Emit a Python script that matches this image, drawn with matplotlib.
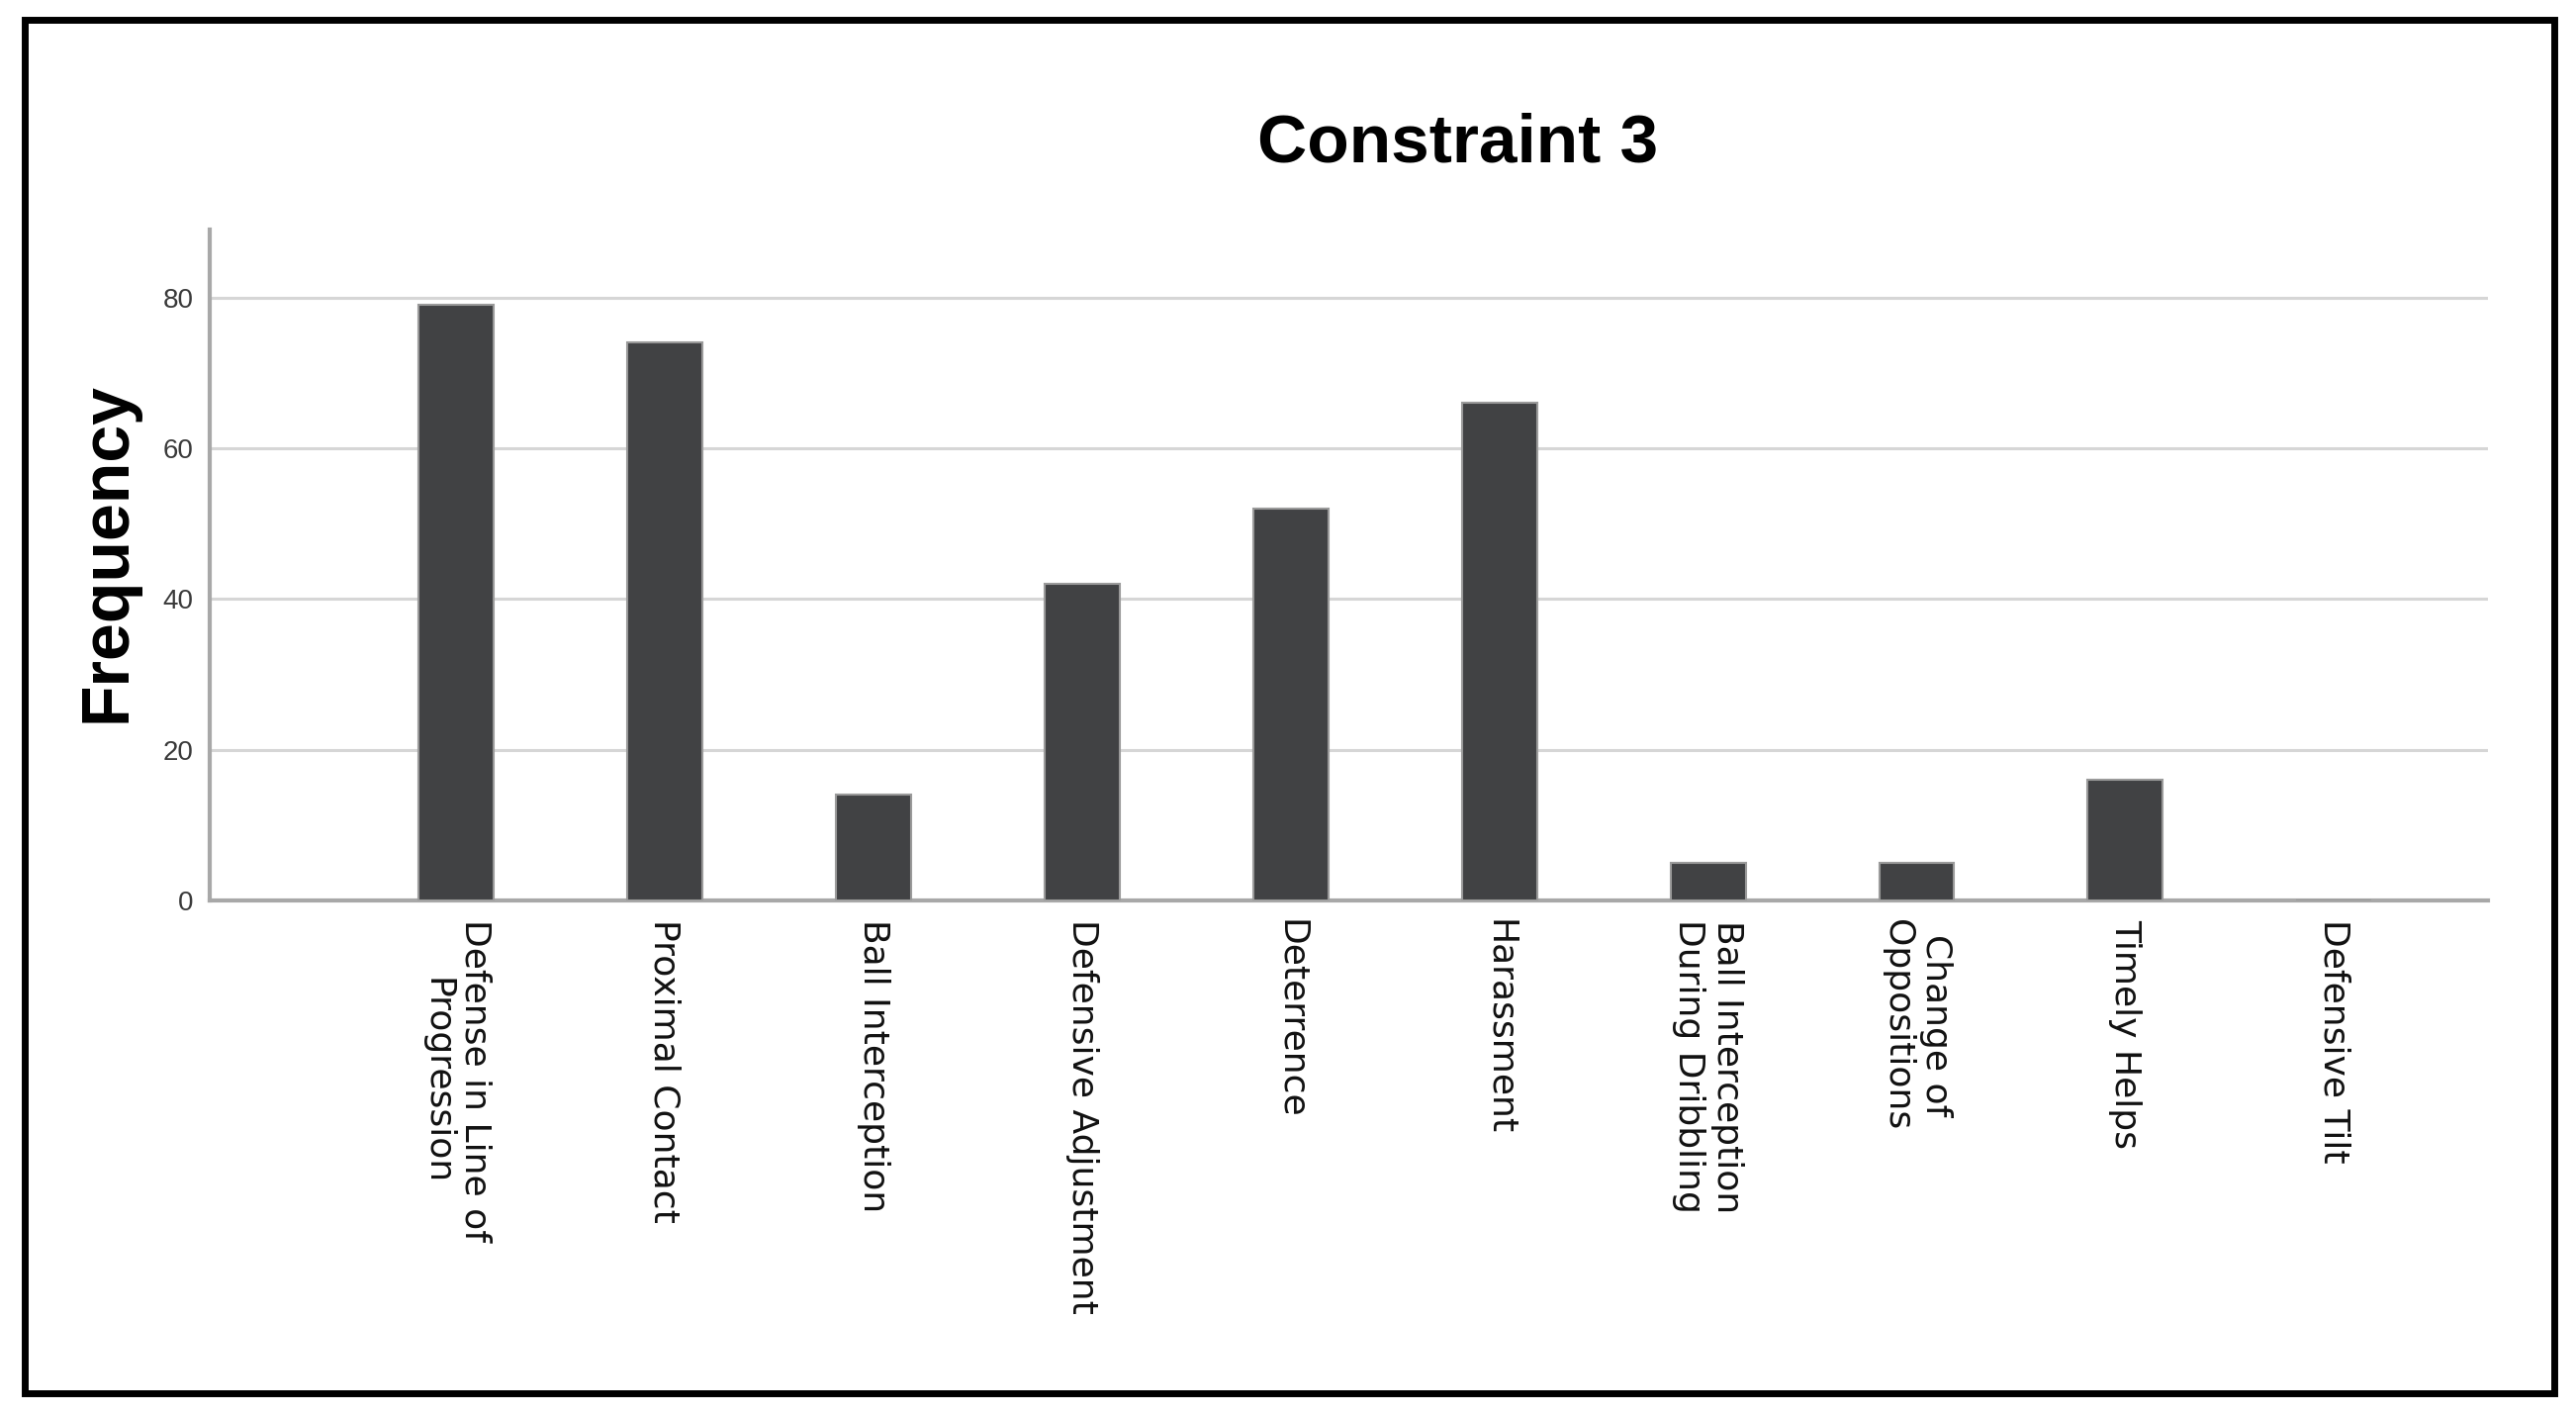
import matplotlib.pyplot as plt
from matplotlib.patches import Rectangle

# Datos del grafico
categorias = [
    "Defense in Line of\nProgression",
    "Proximal Contact",
    "Ball Interception",
    "Defensive Adjustment",
    "Deterrence",
    "Harassment",
    "Ball Interception\nDuring Dribbling",
    "Change of\nOppositions",
    "Timely Helps",
    "Defensive Tilt",
]
frecuencias = [79, 74, 14, 42, 52, 66, 5, 5, 16, 0]
marcas_y = [0, 20, 40, 60, 80]

fig = plt.figure(figsize=(26.04, 14.30), dpi=100)
ax = fig.add_axes([0.0814, 0.3636, 0.8846, 0.4742])

posiciones = list(range(len(categorias)))
ax.bar(posiciones, frecuencias, width=0.36, color="#414244",
       edgecolor="#9a9a9a", linewidth=1.5, zorder=3)

ax.set_xlim(-1.18, 9.74)
ax.set_ylim(0, 89)
ax.set_yticks(marcas_y)
ax.set_xticks(posiciones)
ax.set_xticklabels(categorias, rotation=-90, ha="center", va="top",
                   multialignment="center", fontsize=26,
                   family="DejaVu Sans", color="#111111")

ax.yaxis.grid(True, color="#d6d6d6", linewidth=2.2, zorder=0)
ax.xaxis.grid(False)

for lado in ["top", "right"]:
    ax.spines[lado].set_visible(False)
for lado in ["left", "bottom"]:
    ax.spines[lado].set_color("#a8a8a8")
    ax.spines[lado].set_linewidth(3)

ax.tick_params(axis="x", length=0, pad=14)
ax.tick_params(axis="y", length=0, pad=12, labelsize=20, labelcolor="#3a3a3a")
for lbl in ax.get_yticklabels():
    lbl.set_family("Liberation Sans")

# Titulo y etiqueta del eje Y
fig.text(0.566, 0.898, "Constraint 3", ha="center", va="center",
         fontsize=50, fontweight="bold", family="Liberation Sans")
fig.text(0.0415, 0.61, "Frequency", ha="center", va="center", rotation=90,
         fontsize=49, fontweight="bold", family="Liberation Sans")

# Marco negro alrededor de la figura
fig.patches.append(Rectangle((25 / 2604, 1 - 1408 / 1430), (2582 - 25) / 2604,
                             (1408 - 20) / 1430, transform=fig.transFigure,
                             fill=False, edgecolor="black", linewidth=5))

fig.savefig("out.png", dpi=100)
plt.close(fig)
